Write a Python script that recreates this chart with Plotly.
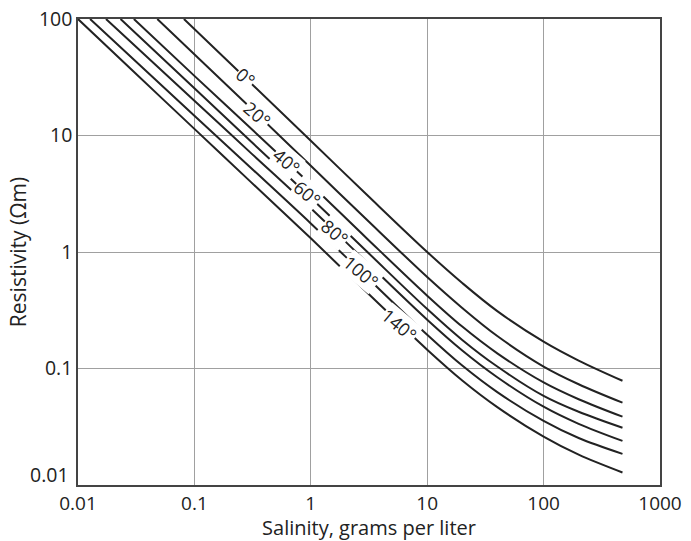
import plotly.graph_objects as go
import numpy as np

temps = ["0°", "20°", "40°", "60°", "80°", "100°", "140°"]

sal_0 = [0.0813, 0.3, 1, 3, 10, 20, 40, 100, 200, 476]
res_0 = [100, 28.6, 9.0, 3.13, 1.0, 0.542, 0.311, 0.17, 0.117, 0.0785]

sal_20 = [0.048, 0.3, 1, 3, 10, 20, 40, 100, 200, 476]
res_20 = [100, 17.5, 5.5, 1.91, 0.61, 0.331, 0.190, 0.104, 0.0733, 0.0509]

sal_40 = [0.0302, 0.1, 0.3, 1, 3, 10, 20, 40, 100, 200, 476]
res_40 = [100, 32.5, 11.7, 3.8, 1.32, 0.422, 0.229, 0.135, 0.076, 0.0545, 0.0386]

sal_60 = [0.0232, 0.1, 0.3, 1, 3, 10, 20, 40, 100, 200, 476]
res_60 = [100, 25.4, 9.06, 2.92, 1.02, 0.324, 0.176, 0.104, 0.0582, 0.0425, 0.031]

sal_80 = [0.0174, 0.1, 0.3, 1, 3, 10, 20, 40, 100, 200, 476]
res_80 = [100, 19.9, 7.2, 2.37, 0.824, 0.262, 0.1426, 0.0841, 0.047, 0.0335, 0.0239]

sal_100 = [0.0127, 0.1, 0.3, 1, 3, 10, 20, 40, 100, 200, 476]
res_100 = [100, 14.8, 5.37, 1.76, 0.614, 0.195, 0.106, 0.0627, 0.0355, 0.0253, 0.0185]

sal_140 = [0.01, 0.03, 0.1, 0.3, 1, 3, 10, 20, 40, 100, 200, 476]
res_140 = [100, 35.4, 11.4, 4.06, 1.31, 0.456, 0.145, 0.0789, 0.0466, 0.026, 0.0182, 0.0128]

label_x = [0.276, 0.343, 0.619, 0.92, 1.60, 2.73, 5.78]
label_y = [32.0, 15.2, 6.1, 3.18, 1.49, 0.68, 0.236]

x_ticks = [0.01, 0.1, 1, 10, 100, 1000]
x_ticktext = ["0.01", "0.1", "1", "10", "100", "1000"]
y_ticks = [0.1, 1, 10, 100]
y_ticktext = ["0.1", "1", "10", "100"]
y_bottom_value = 0.01
y_bottom_text = "0.01"

series = [(sal_0, res_0), (sal_20, res_20), (sal_40, res_40), (sal_60, res_60),
          (sal_80, res_80), (sal_100, res_100), (sal_140, res_140)]

FONT = "Open Sans"
INK = "#222222"

fig = go.Figure()
for (sx, ry), name in zip(series, temps):
    fig.add_trace(go.Scatter(x=sx, y=ry, mode="lines", name=name,
                             line=dict(color=INK, width=2, shape="spline", smoothing=1.0),
                             showlegend=False, hoverinfo="skip"))

for name, lx, ly in zip(temps, label_x, label_y):
    fig.add_annotation(x=np.log10(lx), y=np.log10(ly), text=name, showarrow=False,
                       textangle=40, bgcolor="white", borderpad=0,
                       font=dict(family=FONT, size=18, color=INK))

# bottom y tick label, lifted so it clears the x-axis "0.01"
fig.add_annotation(xref="paper", x=0, xanchor="right", xshift=-7,
                   y=np.log10(y_bottom_value), yanchor="middle", yshift=11,
                   text=y_bottom_text, showarrow=False,
                   font=dict(family=FONT, size=19.5, color=INK))

axis_common = dict(type="log", showgrid=True, gridcolor="#a0a0a0", gridwidth=1.3,
                   showline=True, linecolor="#444444", linewidth=1.5, mirror=True,
                   ticks="", zeroline=False)

fig.update_xaxes(range=[-2, 3], tickvals=x_ticks, ticktext=x_ticktext,
                 tickfont=dict(family=FONT, size=19, color=INK),
                 title=dict(text="Salinity, grams per liter", standoff=12,
                            font=dict(family=FONT, size=20, color=INK)),
                 **axis_common)
fig.update_yaxes(range=[-2, 2], tickvals=y_ticks, ticktext=y_ticktext,
                 tickfont=dict(family=FONT, size=19.5, color=INK),
                 title=dict(text="Resistivity (Ωm)", standoff=7,
                            font=dict(family=FONT, size=21, color=INK)),
                 **axis_common)

fig.update_layout(width=691, height=541, plot_bgcolor="white", paper_bgcolor="white",
                  margin=dict(l=78, r=31, t=19, b=56, autoexpand=False))

fig.write_html("out.html", config={"displayModeBar": False},
               post_script="document.body.style.margin='0';document.body.style.overflow='hidden';")
